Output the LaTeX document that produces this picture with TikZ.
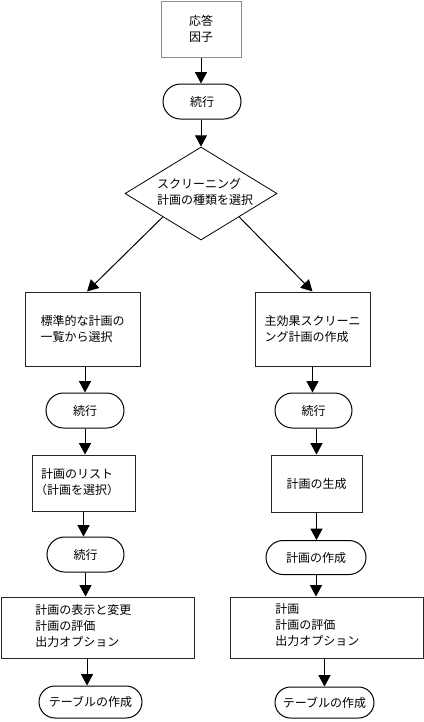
\documentclass[tikz,border=0pt]{standalone}
\usepackage{fontspec}
\newfontfamily\jp{Noto Sans CJK JP}
\usetikzlibrary{arrows.meta,shapes.geometric,shapes.misc}
\begin{document}
\begin{tikzpicture}[x=0.75pt,y=-0.75pt,
  every node/.style={font=\jp\fontsize{9}{12}\selectfont, inner sep=0pt},
  box/.style={draw=black!85, line width=0.75pt, rectangle, align=left},
  pill/.style={draw=black, line width=0.75pt, rounded rectangle},
  txt/.style={align=left},
  arr/.style={line width=0.75pt, -{Triangle[width=9pt,length=8.5pt]}}]
\useasboundingbox (0,0) rectangle (424,722);

% left/top
\node[box, draw=black!45, minimum width=60pt, minimum height=42pt, align=center] (top) at (201,29) {応答\\因子};
\node[pill, minimum width=58.5pt, minimum height=26.25pt] (p1) at (202,101.5) {続行};
\node[diamond, draw=black, line width=0.6pt, minimum width=114pt, minimum height=69.75pt, align=left] (dia) at (201,193.5) {};
\node[txt] (diat) at (205,192) {スクリーニング\\計画の種類を選択};

% left column
\node[box, minimum width=86.25pt, minimum height=55.5pt] (lb1) at (82.5,329) {標準的な計画の\\一覧から選択};
\node[pill, minimum width=58.5pt, minimum height=26.25pt] (lp1) at (85,410.5) {続行};
\node[box, minimum width=77.25pt, minimum height=42pt] (lb2) at (83.5,483) {}; 
\node[txt] (lb2t) at (80,482) {計画のリスト\\\hspace*{-4.5pt}（計画を選択）};
\node[pill, minimum width=57.75pt, minimum height=26.25pt] (lp2) at (85.5,554.5) {続行};
\node[box, minimum width=144.75pt, minimum height=45.75pt] (lb3) at (97.5,627.5) {};
\node[txt, anchor=west] (lb3t) at (35,626) {計画の表示と変更\\計画の評価\\出力オプション};
\node[pill, minimum width=77.25pt, minimum height=24pt] (lp3) at (90.5,702) {テーブルの作成};

% right column
\node[box, minimum width=86.25pt, minimum height=55.5pt] (rb1) at (312.5,329) {主効果スクリーニ\\ング計画の作成};
\node[pill, minimum width=57.75pt, minimum height=26.25pt] (rp1) at (313.5,410.5) {続行};
\node[box, minimum width=68.25pt, minimum height=42.75pt] (rb2) at (316.5,483.5) {計画の生成};
\node[pill, minimum width=75pt, minimum height=25.5pt] (rp2) at (316,557.5) {計画の作成};
\node[box, minimum width=144.75pt, minimum height=45.75pt] (rb3) at (326.5,627.5) {};
\node[txt, anchor=west] (rb3t) at (275,625) {計画\\計画の評価\\出力オプション};
\node[pill, minimum width=74.25pt, minimum height=23.25pt] (rp3) at (324.5,702.5) {テーブルの作成};

% helper coordinates
\coordinate (lb1in) at ([xshift=3.4pt]lb1.north);
\coordinate (lp3in) at ([xshift=-2.6pt]lp3.north);

% connectors
\draw[arr] (top.south) -- (top.south |- p1.north);
\draw[arr] (dia.north |- p1.south) -- (dia.north);
\draw[arr] (dia.south west) -- (lb1in);
\draw[arr] (dia.south east) -- (rb1.north);

\draw[arr] (lp1 |- lb1.south) -- (lp1.north);
\draw[arr] (lp1.south) -- (lp1.south |- lb2.north);
\draw[arr] (lb2.south) -- (lb2.south |- lp2.north);
\draw[arr] (lp2.south) -- (lp2.south |- lb3.north);
\draw[arr] (lb3.south -| lp3in) -- (lp3in);

\draw[arr] (rb1.south) -- (rb1.south |- rp1.north);
\draw[arr] (rb2 |- rp1.south) -- (rb2.north);
\draw[arr] (rb2.south) -- (rb2.south |- rp2.north);
\draw[arr] (rp2.south) -- (rp2.south |- rb3.north);
\draw[arr] (rp3 |- rb3.south) -- (rp3.north);
\end{tikzpicture}
\end{document}
